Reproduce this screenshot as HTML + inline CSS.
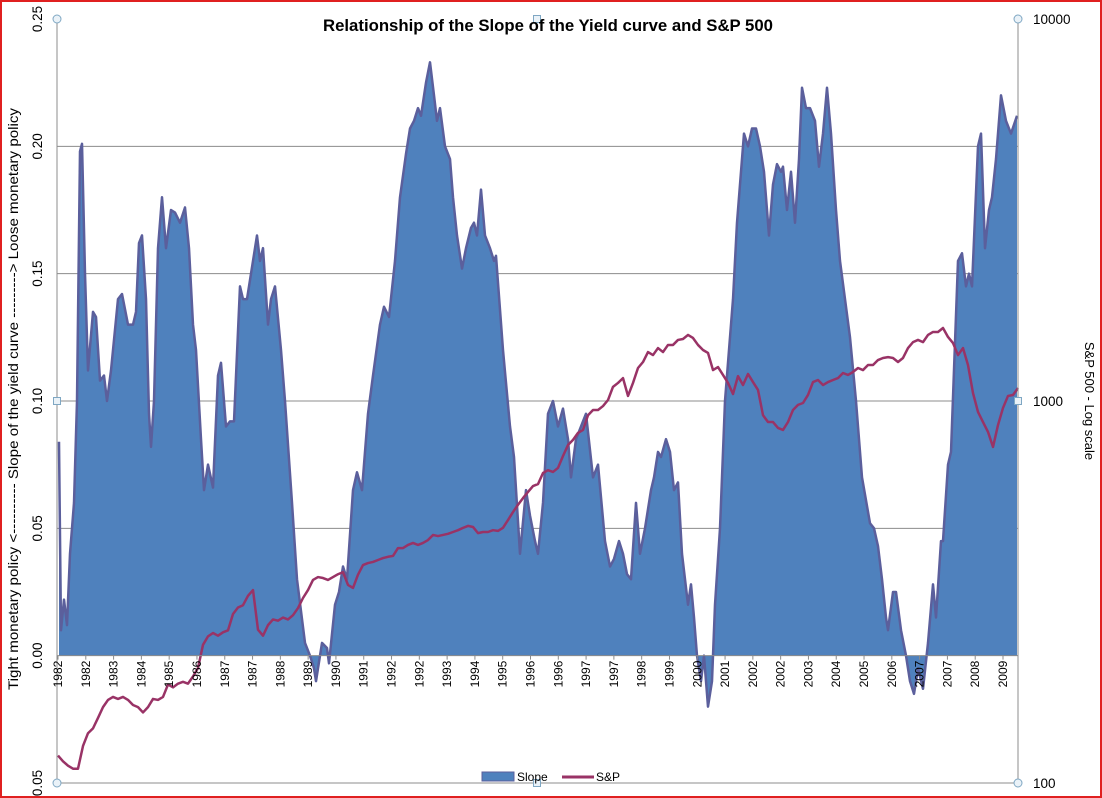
<!DOCTYPE html>
<html><head><meta charset="utf-8"><style>
body{margin:0;background:#fff}
svg{display:block;font-family:"Liberation Sans",sans-serif}
</style></head><body>
<svg id="chart" width="1102" height="798" viewBox="0 0 1102 798">
<rect x="1" y="1" width="1100" height="796" fill="#fff" stroke="#e02020" stroke-width="2"/>
<g id="grid"></g>
<g id="series"></g>
<g id="axes"></g>
<text x="548" y="31" text-anchor="middle" font-size="16.5" font-weight="bold" textLength="450" lengthAdjust="spacingAndGlyphs">Relationship of the Slope of the Yield curve and S&amp;P 500</text>
<text transform="translate(18,399) rotate(-90)" text-anchor="middle" font-size="14" textLength="582" lengthAdjust="spacingAndGlyphs">Tight monetary policy &lt;---------- Slope of the yield curve ---------&gt; Loose monetary policy</text>
<text transform="translate(1085,401) rotate(90)" text-anchor="middle" font-size="13">S&amp;P 500  - Log scale</text>
<g>
<rect x="482" y="772" width="32" height="9" fill="#4f81bd" stroke="#5b5f9c"/>
<text x="517" y="781" font-size="12">Slope</text>
<line x1="562" y1="777" x2="594" y2="777" stroke="#993366" stroke-width="3"/>
<text x="596" y="781" font-size="12">S&amp;P</text>
</g>
</svg>
<script>
const slopeIdx=[0.2,0.6,1.2,1.8,2.4,3.2,3.8,4.4,4.8,5.4,6,7,7.6,8.4,9.2,9.8,10.6,12,12.8,14,15,15.6,16.2,16.8,17.6,18.2,18.6,19.2,20,20.8,21.6,22.6,23.4,24.4,25.4,26.2,27,27.6,28.6,29.2,30,31,32,32.6,33.6,34.4,35.2,36.4,37,37.8,39.8,40.4,41,42,42.6,43.4,44.6,45.4,46.8,47.8,49.4,50.4,51.2,51.6,52.8,53.8,54.2,55.4,56.2,57,57.8,59,59.8,60.8,62,63,64.4,65.2,66.2,67.4,68.4,69.6,70.4,71.2,72,72.6,73.6,74.4,75.2,75.8,76.4,77.4,78.4,79,79.8,80.8,81.6,82.6,83.2,83.8,84.6,85.4,86.4,87.2,87.6,89,90.4,91.2,92.4,93.6,94.4,95.4,96,97,98,99,100,101,102,102.6,103.6,104.6,105.6,107,108,109.4,110.4,111.2,112.2,113,113.8,114.6,115.6,116.4,117.4,118.6,119.2,120,120.6,121.6,122.4,123.2,124,124.8,126,126.6,127.2,127.8,128.6,129.2,130,130.8,131.4,132.4,133.4,135,135.8,137.2,138,138.8,139.6,140.4,141.2,142.2,143,143.8,144.6,145,145.8,146.6,147.4,148.2,148.8,149.6,150.4,151.4,152.2,153,153.8,154.6,155.6,156.4,157.4,158.4,159.6,160.8,162.4,163.2,164,164.8,165.6,166,167,167.6,168.6,169.6,170.4,171.2,172,173,174,175,175.6,176.6,177,178,178.6,180,180.8,181.6,182.2,182.8,184,184.6,185.4,186.2,186.8,187.6,188.6,189.6,190.6,191.8];
const slopeVals=[0.084,0.01,0.022,0.012,0.04,0.06,0.10,0.198,0.201,0.15,0.112,0.135,0.133,0.108,0.11,0.10,0.112,0.14,0.142,0.13,0.13,0.135,0.162,0.165,0.14,0.095,0.082,0.10,0.16,0.18,0.16,0.175,0.174,0.17,0.176,0.16,0.13,0.12,0.085,0.065,0.075,0.066,0.11,0.115,0.09,0.092,0.092,0.145,0.14,0.14,0.165,0.155,0.16,0.13,0.14,0.145,0.12,0.10,0.06,0.03,0.005,0,-0.005,-0.01,0.005,0.003,-0.003,0.02,0.025,0.035,0.03,0.065,0.072,0.065,0.095,0.11,0.13,0.137,0.133,0.155,0.18,0.197,0.207,0.21,0.215,0.212,0.225,0.233,0.22,0.21,0.215,0.2,0.195,0.18,0.165,0.152,0.16,0.168,0.17,0.165,0.183,0.165,0.16,0.155,0.157,0.12,0.09,0.078,0.04,0.065,0.055,0.045,0.04,0.06,0.095,0.1,0.09,0.097,0.085,0.07,0.085,0.09,0.095,0.07,0.075,0.045,0.035,0.038,0.045,0.04,0.032,0.03,0.06,0.04,0.05,0.065,0.07,0.08,0.078,0.085,0.08,0.065,0.068,0.04,0.02,0.028,0.015,0,-0.01,0,-0.02,-0.01,0.02,0.05,0.1,0.14,0.17,0.205,0.2,0.207,0.207,0.2,0.19,0.165,0.185,0.193,0.19,0.192,0.175,0.19,0.17,0.195,0.223,0.215,0.215,0.21,0.192,0.205,0.223,0.205,0.175,0.155,0.14,0.125,0.1,0.07,0.052,0.05,0.043,0.03,0.015,0.01,0.025,0.025,0.01,0,-0.01,-0.015,-0.005,-0.013,0.005,0.028,0.015,0.045,0.045,0.075,0.08,0.155,0.158,0.145,0.15,0.145,0.2,0.205,0.16,0.175,0.18,0.195,0.22,0.21,0.205,0.212];
const spVals=[118,114,111,109,109,125,135,139,148,158,165,168,166,168,165,160,158,153,158,166,165,168,181,178,182,184,182,190,200,230,242,247,243,248,251,277,288,292,309,320,252,243,259,268,266,271,268,275,
287,305,320,340,346,344,340,346,352,356.5,330,324,351,372,376.5,379,383.5,388,391,393,412,412,420,425,420,425,432.5,446,443,446,449,454,459,465.5,471,468,451,454,454,459,457,465.5,488,512,535,557,578,599,606,648,659,652,668,718,767,791,825,840,918,947,947,970,1006,1089,1115,1148,1031,1115,1220,1265,1343,1319,1376,1343,1402,1402,1445,1453,1489,1462,1402,1360,1336,1205,1227,1170,1115,1043,1162,1101,1177,1121,1069,918,881,881,850,840,881,947,977,988,1037,1121,1135,1101,1121,1135,1148,1184,1170,1191,1220,1205,1242,1242,1280,1296,1303,1296,1265,1296,1376,1426,1445,1426,1489,1516,1516,1553,1471,1418,1319,1376,1242,1049,936,881,830,758,865,959,1031,1037,1081];
const yTicks=[0.25,0.20,0.15,0.10,0.05,0.00,-0.05];
const yTickLabels=["0.25","0.20","0.15","0.10","0.05","0.00","0.05"];
const y2Ticks=[10000,1000,100];
const xLabels=["1982","1982","1983","1984","1985","1986","1987","1987","1988","1989","1990","1991","1992","1992","1993","1994","1995","1996","1996","1997","1997","1998","1999","2000","2001","2002","2002","2003","2004","2005","2006","2007","2007","2008","2009"];

const NS="http://www.w3.org/2000/svg";
const L=57,R=1018,T=19,B=783;
const N=spVals.length;
const x=i=>58+(i/(N-1))*(1018-58);
const y=v=>T+(0.25-v)/0.30*(B-T);
const y2=v=>T+(4-Math.log10(v))/2*(B-T);
function mk(tag,attrs,parent){const e=document.createElementNS(NS,tag);for(const k in attrs)e.setAttribute(k,attrs[k]);parent.appendChild(e);return e;}
const grid=document.getElementById('grid'),ser=document.getElementById('series'),ax=document.getElementById('axes');

yTicks.forEach((t,i)=>{
  if(t>-0.05&&t<0.25&&t!==0){const g=mk('line',{x1:L,x2:R,y1:y(t),y2:y(t),stroke:'#8c8c8c','stroke-width':1},grid);
  
  }
  const tx=mk('text',{transform:`translate(42,${y(t)}) rotate(-90)`,'text-anchor':'middle','font-size':13.5},ax);
  tx.textContent=yTickLabels[i];
  
  
});
y2Ticks.forEach(t=>{
  const tx=mk('text',{x:1033,y:y2(t)+5,'font-size':13.5},ax);
  tx.textContent=String(t);
  
  
});

const y0=y(0);
let d=`M${x(slopeIdx[0])},${y0}`;
slopeIdx.forEach((s,i)=>{d+=` L${x(s)},${y(slopeVals[i])}`;});
d+=` L${x(slopeIdx[slopeIdx.length-1])},${y0} Z`;
const area=mk('path',{d:d,fill:'#4f81bd',stroke:'none'},ser);


let dl='';
slopeIdx.forEach((s,i)=>{dl+=(i?' L':'M')+x(s)+','+y(slopeVals[i]);});
const sl=mk('path',{d:dl,fill:'none',stroke:'#5b5f9c','stroke-width':2.5,'stroke-linejoin':'round'},ser);



const zl=mk('line',{x1:L,x2:R,y1:y0,y2:y0,stroke:'#8c8c8c','stroke-width':1},ax);


[[L,T,L,B],[R,T,R,B],[L,B,R,B]].forEach(a=>{
  const l=mk('line',{x1:a[0],y1:a[1],x2:a[2],y2:a[3],stroke:'#8c8c8c','stroke-width':1},ax);
  
  
});
xLabels.forEach((lab,i)=>{
  const xx=58+i*(1003-58)/(xLabels.length-1);
  const tk=mk('line',{x1:xx,x2:xx,y1:y0,y2:y0+4,stroke:'#8c8c8c'},ax);
  
  
  const tx=mk('text',{transform:`translate(${xx+4},${y0+5}) rotate(-90)`,'text-anchor':'end','font-size':12},ax);
  tx.textContent=lab;
  
  
});

let ds='';
spVals.forEach((v,i)=>{ds+=(i?' L':'M')+x(i)+','+y2(v);});
const sp=mk('path',{d:ds,fill:'none',stroke:'#993366','stroke-width':2.5,'stroke-linejoin':'round'},ser);



[[L,T],[R,T],[L,B],[R,B]].forEach(p=>{
  const c=mk('circle',{cx:p[0],cy:p[1],r:4,fill:'#eaf2f8',stroke:'#7fa7c3'},ax);
  
  
});
[[537,T],[537,B],[L,401],[R,401]].forEach(p=>{
  const r=mk('rect',{x:p[0]-3.5,y:p[1]-3.5,width:7,height:7,fill:'#eaf2f8',stroke:'#7fa7c3'},ax);
  
  
});
</script>
</body></html>
